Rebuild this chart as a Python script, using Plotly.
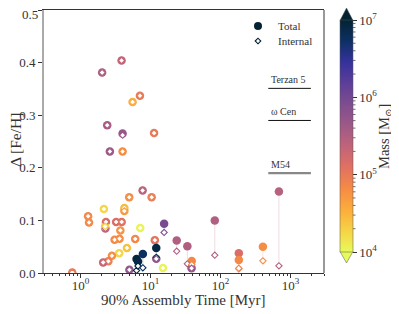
import numpy as np
import plotly.graph_objects as go
from plotly.colors import sample_colorscale, sequential

# ---------------- data ----------------
time_myr = [2.03, 3.85, 7.04, 5.53, 2.40, 3.98, 11.2, 2.62, 3.98, 7.69,
            4.95, 10.35, 1.28, 1.32, 2.15, 4.22, 4.22, 2.30, 2.26, 2.24,
            3.22, 3.86, 3.70, 7.11, 3.06, 3.60, 6.03, 11.5, 4.59, 3.56,
            2.80, 2.49, 2.10, 0.76, 4.98, 6.3, 6.6, 7.75, 12.05, 12.05,
            15.0, 15.6, 23.6, 33.5, 38.7, 38.5, 82.6, 182, 182, 402, 681]
dfe_total = [0.381, 0.404, 0.337, 0.325, 0.281, 0.265, 0.266, 0.231, 0.231, 0.157,
             0.144, 0.144, 0.108, 0.096, 0.1215, 0.1234, 0.118, 0.097, 0.0848, 0.0886,
             0.097, 0.097, 0.081, 0.0857, 0.0632, 0.0653, 0.0648, 0.0625, 0.0476, 0.0377,
             0.0328, 0.0225, 0.020, 0.001, 0.006, 0.0267, 0.0219, 0.0362, 0.0476, 0.027,
             0.0095, 0.0937, 0.0619, 0.0509, 0.0229, 0.0091, 0.100, 0.0377, 0.0248, 0.0501, 0.155]
dfe_internal = [0.381, 0.404, 0.337, 0.325, 0.281, 0.262, 0.266, 0.231, 0.231, 0.157,
                0.144, 0.144, 0.108, 0.096, 0.1215, 0.1234, 0.118, 0.097, 0.0848, 0.0886,
                0.097, 0.097, 0.081, 0.0857, 0.0632, 0.0653, 0.0648, 0.0625, 0.0476, 0.0377,
                0.0328, 0.0225, 0.020, 0.001, 0.006, 0.0048, 0.0133, 0.0099, 0.0295, 0.027,
                0.0095, 0.0771, 0.0415, 0.0175, 0.016, 0.0091, 0.0339, 0.008, 0.009, 0.0232, 0.0137]
log_mass = [5.5, 5.35, 5.0, 4.55, 5.55, 5.7, 5.0, 5.65, 4.8, 5.4,
            4.8, 4.95, 4.85, 4.85, 4.25, 4.45, 4.7, 5.15, 5.4, 4.3,
            5.15, 5.1, 4.75, 4.05, 4.85, 4.8, 4.85, 5.05, 4.4, 4.25,
            4.8, 4.95, 5.3, 5.0, 5.75, 6.95, 6.9, 6.75, 6.9, 5.75,
            4.05, 5.95, 5.5, 5.5, 4.85, 5.7, 5.5, 5.15, 4.85, 4.8, 5.45]

ref_names = ["Terzan 5", "ω Cen", "M54"]
ref_dfe = [0.351, 0.29, 0.19]
ref_t0 = [480, 480, 480]
ref_t1 = [1950, 1950, 1950]

cb_tickvals = [4, 5, 6, 7]
cb_ticktext = ["10<sup>4</sup>", "10<sup>5</sup>", "10<sup>6</sup>", "10<sup>7</sup>"]
x_tickvals = [1, 10, 100, 1000]
x_ticktext = ["10<sup>0</sup>", "10<sup>1</sup>", "10<sup>2</sup>", "10<sup>3</sup>"]
y_tickvals = [0, 0.1, 0.2, 0.3, 0.4, 0.5]
y_ticktext = ["0.0", "0.1", "0.2", "0.3", "0.4", ""]
y_top_label = "0.5"

# ---------------- style ----------------
FONT = "Liberation Serif, Times New Roman, DejaVu Serif, serif"
W, H = 399, 314
OFF = 8                       # default page body margin of the browser
PX0, PX1, PY0, PY1 = 44, 324, 10, 273   # plot area in screen pixels
ML, MT = PX0 - OFF, PY0 - OFF
PW, PH = PX1 - PX0, PY1 - PY0
MR, MB = W - ML - PW, H - MT - PH
CMIN, CMAX = 4, 7
cscale = list(sequential.thermal)[::-1]

def px2paper_x(px):
    return (px - PX0) / PW

def px2paper_y(py):
    return (PY1 - py) / PH

def mass_rgba(lm, a):
    c = sample_colorscale(cscale, [(lm - CMIN) / (CMAX - CMIN)])[0]
    r, g, b = [float(v) for v in c[c.index("(") + 1:-1].split(",")]
    return f"rgba({int(r)},{int(g)},{int(b)},{a})"

fig = go.Figure()

# connecting lines
for t, yt, yi, lm in zip(time_myr, dfe_total, dfe_internal, log_mass):
    if abs(yt - yi) > 1e-9:
        fig.add_trace(go.Scatter(x=[t, t], y=[yt, yi], mode="lines",
                                 line=dict(color=mass_rgba(lm, 0.22), width=1),
                                 hoverinfo="skip", showlegend=False))

# reference lines
for name, d, t0, t1 in zip(ref_names, ref_dfe, ref_t0, ref_t1):
    is_m54 = name == "M54"
    fig.add_trace(go.Scatter(x=[t0, t1], y=[d, d], mode="lines",
                             line=dict(color="#888888" if is_m54 else "#111111",
                                       width=2.2 if is_m54 else 1),
                             hoverinfo="skip", showlegend=False))
    fig.add_annotation(x=np.log10(t0) + 0.01, y=d, xref="x", yref="y", text=name,
                       showarrow=False, xanchor="left", yanchor="bottom", yshift=1,
                       font=dict(family=FONT, size=10, color="#333333"))

cb_cen = (20 + 252) / 2
fig.add_trace(go.Scatter(
    x=time_myr, y=dfe_total, mode="markers", showlegend=False,
    marker=dict(size=8.5, symbol="circle", color=log_mass, colorscale=cscale,
                cmin=CMIN, cmax=CMAX, line=dict(width=0),
                showscale=True,
                colorbar=dict(thickness=13, thicknessmode="pixels",
                              len=232, lenmode="pixels",
                              x=px2paper_x(340), xanchor="left", xpad=0,
                              y=px2paper_y(cb_cen), yanchor="middle", ypad=0,
                              tickvals=cb_tickvals, ticktext=cb_ticktext,
                              ticks="outside", ticklen=4, tickcolor="#333",
                              ticklabeloverflow="allow",
                              tickfont=dict(family=FONT, size=13, color="#333"),
                              outlinewidth=0.5, outlinecolor="#555"))))

fig.add_trace(go.Scatter(
    x=time_myr, y=dfe_internal, mode="markers", showlegend=False,
    marker=dict(size=4.8, symbol="diamond", color="white",
                line=dict(width=1.1, color=[mass_rgba(m, 1) for m in log_mass]))))

shapes = []
# right spine
shapes.append(dict(type="line", xref="paper", yref="paper", x0=1, x1=1, y0=0, y1=1,
                   line=dict(color="#333", width=1)))
# colorbar extension triangles
xl, xr, xm = px2paper_x(340), px2paper_x(353), px2paper_x(346.5)
yt_b, yt_t = px2paper_y(20.5), px2paper_y(8)
yb_b, yb_t = px2paper_y(251.5), px2paper_y(263)
shapes.append(dict(type="path", xref="paper", yref="paper",
                   path=f"M {xl} {yt_b} L {xr} {yt_b} L {xm} {yt_t} Z",
                   fillcolor=mass_rgba(7, 1), line=dict(width=0.5, color="#555")))
shapes.append(dict(type="path", xref="paper", yref="paper",
                   path=f"M {xl} {yb_b} L {xr} {yb_b} L {xm} {yb_t} Z",
                   fillcolor=mass_rgba(4, 1), line=dict(width=0.5, color="#555")))
# colorbar minor ticks
for k in range(4, 7):
    for m in range(2, 10):
        v = k + np.log10(m)
        py = 252 - (v - 4) * 232 / 3
        yp = px2paper_y(py)
        shapes.append(dict(type="line", xref="paper", yref="paper",
                           x0=px2paper_x(353), x1=px2paper_x(355.5), y0=yp, y1=yp,
                           line=dict(color="#333", width=0.7)))
# legend markers
legend_col = mass_rgba(7, 1)
lx = px2paper_x(258)
ly1, ly2 = px2paper_y(26), px2paper_y(41)
shapes.append(dict(type="circle", xref="paper", yref="paper", xsizemode="pixel",
                   ysizemode="pixel", xanchor=lx, yanchor=ly1,
                   x0=-4, x1=4, y0=-4, y1=4, fillcolor=legend_col, line=dict(width=0)))
shapes.append(dict(type="path", xref="paper", yref="paper", xsizemode="pixel",
                   ysizemode="pixel", xanchor=lx, yanchor=ly2,
                   path="M -2.8 0 L 0 2.8 L 2.8 0 L 0 -2.8 Z",
                   fillcolor="white", line=dict(width=1.1, color=legend_col)))
fig.add_annotation(x=px2paper_x(276), y=ly1, xref="paper", yref="paper", text="Total",
                   showarrow=False, xanchor="left", yanchor="middle",
                   font=dict(family=FONT, size=11, color="#333"))
fig.add_annotation(x=px2paper_x(276), y=ly2, xref="paper", yref="paper", text="Internal",
                   showarrow=False, xanchor="left", yanchor="middle",
                   font=dict(family=FONT, size=11, color="#333"))

# top y tick label kept fully inside the page
fig.add_annotation(x=0, y=1, xref="paper", yref="paper", text=y_top_label,
                   showarrow=False, xanchor="right", yanchor="top", xshift=-5, yshift=4,
                   borderpad=0,
                   font=dict(family=FONT, size=13, color="#333"))

# axis / colorbar titles as annotations
fig.add_annotation(x=px2paper_x(183), y=px2paper_y(300), xref="paper", yref="paper",
                   text="90% Assembly Time [Myr]", showarrow=False,
                   xanchor="center", yanchor="middle",
                   font=dict(family=FONT, size=15, color="#333"))
fig.add_annotation(x=px2paper_x(15), y=px2paper_y(140), xref="paper", yref="paper",
                   text="Δ [Fe/H]", showarrow=False, textangle=-90,
                   xanchor="center", yanchor="middle",
                   font=dict(family=FONT, size=15.5, color="#333"))
fig.add_annotation(x=px2paper_x(385), y=px2paper_y(136), xref="paper", yref="paper",
                   text="Mass [M<sub>⊙</sub>]", showarrow=False, textangle=-90,
                   xanchor="center", yanchor="middle",
                   font=dict(family=FONT, size=14.5, color="#333"))

minor_vals = [m * 10.0 ** k for k in range(-1, 4) for m in range(2, 10)]

fig.update_layout(
    width=W, height=H, margin=dict(l=ML, r=MR, t=MT, b=MB, autoexpand=False),
    paper_bgcolor="white", plot_bgcolor="white",
    font=dict(family=FONT, color="#333"),
    shapes=shapes,
    xaxis=dict(type="log", range=[np.log10(0.3), np.log10(3000)],
               tickvals=x_tickvals, ticktext=x_ticktext,
               ticks="outside", ticklen=4, tickcolor="#333", tickwidth=0.8,
               ticklabelstandoff=-4, ticklabeloverflow="allow",
               minor=dict(ticks="outside", ticklen=2, tickcolor="#333", tickwidth=0.6,
                          tickvals=minor_vals),
               showline=True, linecolor="#333", linewidth=1, mirror=True,
               showgrid=False, zeroline=False,
               tickfont=dict(family=FONT, size=13, color="#333")),
    yaxis=dict(range=[0, 0.5], tickvals=y_tickvals, ticktext=y_ticktext,
               ticks="outside", ticklen=4, tickcolor="#333", tickwidth=0.8,
               ticklabeloverflow="allow",
               showline=True, linecolor="#aaaaaa", linewidth=2, mirror=False,
               showgrid=False, zeroline=False,
               tickfont=dict(family=FONT, size=13, color="#333")),
)

fig.write_html("out.html")
